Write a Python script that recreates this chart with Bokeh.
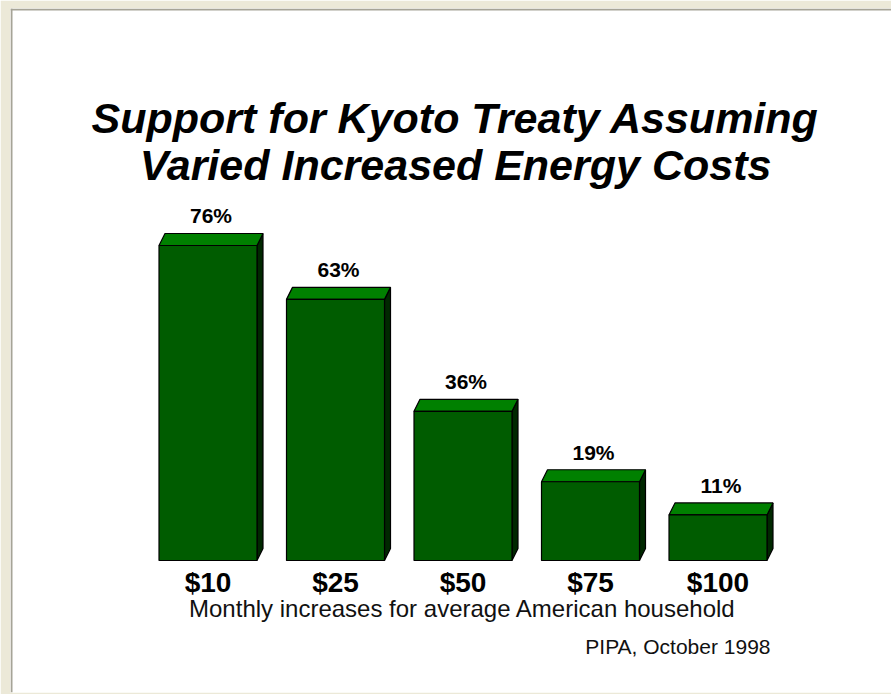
from bokeh.plotting import figure
from bokeh.models import Range1d, Span, ColumnDataSource
from bokeh.core.properties import value
from bokeh.embed import file_html
from bokeh.resources import INLINE

# ---- data ----
categories = ["$10", "$25", "$50", "$75", "$100"]
support = [76, 63, 36, 19, 11]
value_labels = ["76%", "63%", "36%", "19%", "11%"]
title_lines = ["Support for Kyoto Treaty Assuming", "Varied Increased Energy Costs"]
x_title = "Monthly increases for average American household"
source_note = "PIPA, October 1998"

# ---- geometry (page pixels -> data units) ----
W, H = 891, 694
BL, BT, BR, BB = 10, 8, 0, 2
frame_w = W - BL - BR
frame_h = H - BT - BB
PX_PER_CAT = 127.5
CX0 = 207.5
PX_PER_PCT = 4.145
BASE_PY = 560

x_start = -(CX0 - BL) / PX_PER_CAT
x_end = x_start + frame_w / PX_PER_CAT
y_start = -(BT + frame_h - BASE_PY) / PX_PER_PCT
y_end = y_start + frame_h / PX_PER_PCT


def X(px):
    return x_start + (px - BL) / PX_PER_CAT


def Y(py):
    return y_start + (BT + frame_h - py) / PX_PER_PCT


def baseline(py, size):
    # compensate for the renderer's baseline placement
    return Y(py - 0.36 * size)


bw = 98 / PX_PER_CAT
dx = 6 / PX_PER_CAT
dy = 12 / PX_PER_PCT

p = figure(width=W, height=H, output_backend="svg", toolbar_location=None,
           x_range=Range1d(x_start, x_end), y_range=Range1d(y_start, y_end),
           x_axis_location=None, y_axis_location=None,
           min_border_left=BL, min_border_top=BT, min_border_right=BR, min_border_bottom=BB)
p.grid.visible = False
p.outline_line_color = None
p.background_fill_color = "white"
p.border_fill_color = "#ECE9D8"

xs = list(range(len(categories)))
lefts = [i - bw / 2 for i in xs]
rights = [i + bw / 2 for i in xs]

front_color = "#005C00"
top_color = "#008000"
side_color = "#002800"

# side faces
side_x = [[r, r, r + dx, r + dx] for r in rights]
side_y = [[0, v, v + dy, dy] for v in support]
p.patches(side_x, side_y, fill_color=side_color, line_color="black", line_width=1.2)
# top faces
top_x = [[l, l + dx, r + dx, r] for l, r in zip(lefts, rights)]
top_y = [[v, v + dy, v + dy, v] for v in support]
p.patches(top_x, top_y, fill_color=top_color, line_color="black", line_width=1.2)
# front faces
p.quad(left=lefts, right=rights, bottom=0, top=support,
       fill_color=front_color, line_color="black", line_width=1.2)

# value labels
VS = 21
src_vals = ColumnDataSource(dict(x=[i + dx / 2 for i in xs],
                                 y=[v + dy + (10 + 0.36 * VS) / PX_PER_PCT for v in support],
                                 t=value_labels))
p.text(x="x", y="y", text="t", source=src_vals, text_font=value("Liberation Sans"),
       text_font_style="bold", text_font_size=f"{VS}px", text_align="center",
       text_baseline="alphabetic", text_color="black")

# category labels
CS = 28
src_cats = ColumnDataSource(dict(x=xs, y=[baseline(592, CS)] * len(xs), t=categories))
p.text(x="x", y="y", text="t", source=src_cats, text_font=value("Liberation Sans"),
       text_font_style="bold", text_font_size=f"{CS}px", text_align="center",
       text_baseline="alphabetic", text_color="black")

# title
TS = 43
p.text(x=[X(455), X(455)], y=[baseline(133, TS), baseline(180, TS)], text=title_lines,
       text_font=value("Liberation Sans"), text_font_style="bold italic",
       text_font_size=f"{TS}px", text_align="center", text_baseline="alphabetic",
       text_color="black")

# axis title
AS = 24
p.text(x=[X(462)], y=[baseline(617, AS)], text=[x_title], text_font=value("Liberation Sans"),
       text_font_size=f"{AS}px", text_align="center", text_baseline="alphabetic",
       text_color="#111111")

# source note
SS = 21
p.text(x=[X(770)], y=[baseline(654, SS)], text=[source_note], text_font=value("Liberation Sans"),
       text_font_size=f"{SS}px", text_align="right", text_baseline="alphabetic",
       text_color="#111111")

# inset frame lines (left and top)
p.add_layout(Span(location=X(11), dimension="height", line_color="#A6A497", line_width=2))
p.add_layout(Span(location=Y(9), dimension="width", line_color="#A6A497", line_width=2))

open("out.html", "w").write(file_html(p, INLINE))
